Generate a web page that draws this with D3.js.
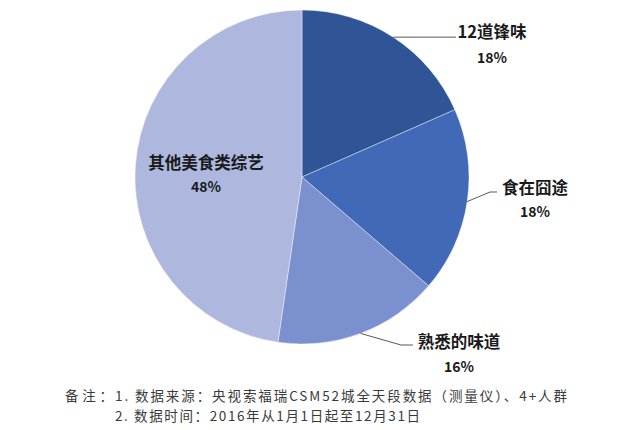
<!DOCTYPE html>
<html><head><meta charset="utf-8">
<script src="https://cdn.jsdelivr.net/npm/d3@7/dist/d3.min.js"></script>
<style>html,body{margin:0;padding:0;background:#fff;}svg{display:block;}</style>
</head><body>
<svg id="c" width="640" height="430"></svg>
<script>
const categories = ["12道锋味", "食在囧途", "熟悉的味道", "其他美食类综艺"];
const values = [18.4, 17.9, 16.0, 47.7];
const colors = ["#2F5597", "#4169B7", "#7B90CE", "#AEB8DF"];
const notes = ["备注：", "1. 数据来源：央视索福瑞CSM52城全天段数据（测量仪）、4+人群", "2. 数据时间：2016年从1月1日起至12月31日"];

const svg = d3.select("#c");
const cx = 302, cy = 177, r = 167;
const font = "'Noto Sans CJK SC', 'Noto Sans', sans-serif";

const pie = d3.pie().sort(null).value(d => d)(values);
const arc = d3.arc().innerRadius(0).outerRadius(r);
const g = svg.append("g").attr("transform", `translate(${cx},${cy})`);
g.selectAll("path").data(pie).join("path")
  .attr("d", arc).attr("fill", (d, i) => colors[i])
  .attr("stroke", "#fff").attr("stroke-width", 0.4);

// label layout (positions relative to svg)
const labelPos = [
  {tx: 492, ty: 38, px: 492, py: 63, path: (s) => [[s[0], s[1]], [456, s[1]]]},
  {tx: 535, ty: 194, px: 535, py: 217, path: (s) => [[s[0], s[1]], [490, 192], [497, 192]]},
  {tx: 459, ty: 348, px: 459, py: 372, path: (s) => [[s[0], s[1]], [401, 345], [413, 345]]},
  {tx: 206, ty: 169, px: 206, py: 192, path: null}
];

pie.forEach((d, i) => {
  const a = (d.startAngle + d.endAngle) / 2;
  const s = [cx + r * Math.sin(a), cy - r * Math.cos(a)];
  const L = labelPos[i];
  if (L.path) {
    svg.append("path").attr("d", d3.line()(L.path(s)))
      .attr("fill", "none").attr("stroke", "#595959").attr("stroke-width", 1);
  }
  svg.append("text").attr("x", L.tx).attr("y", L.ty).attr("text-anchor", "middle")
    .attr("font-family", font).attr("font-weight", "bold").attr("font-size", 16.5)
    .attr("fill", "#1a1a1a").text(categories[i]);
  svg.append("text").attr("x", L.px).attr("y", L.py).attr("text-anchor", "middle")
    .attr("font-family", font).attr("font-weight", "bold").attr("font-size", 14)
    .attr("fill", "#1a1a1a").text(Math.round(d.data) + "%");
});

const nfs = 13.5, ncol = "#3a3a3a";
svg.append("text").attr("x", 65).attr("y", 401)
  .attr("font-family", font).attr("font-size", nfs).attr("fill", ncol)
  .attr("textLength", 48).attr("lengthAdjust", "spacing").text(notes[0]);
svg.append("text").attr("x", 115).attr("y", 401)
  .attr("font-family", font).attr("font-size", nfs).attr("fill", ncol)
  .attr("textLength", 452).attr("lengthAdjust", "spacing").text(notes[1]);
svg.append("text").attr("x", 115).attr("y", 421)
  .attr("font-family", font).attr("font-size", nfs).attr("fill", ncol)
  .attr("textLength", 305).attr("lengthAdjust", "spacing").text(notes[2]);
</script>
</body></html>
